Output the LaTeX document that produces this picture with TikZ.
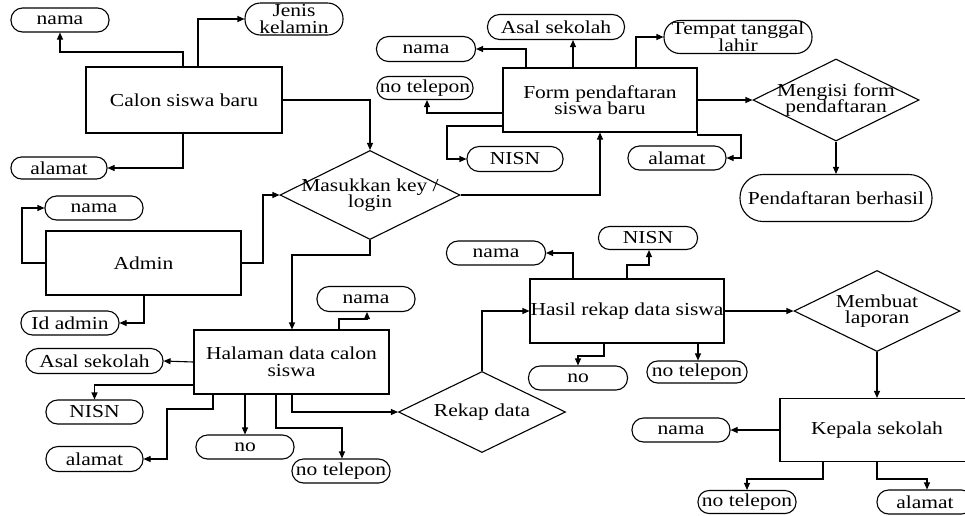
\documentclass[tikz,border=0pt]{standalone}
\usepackage{fontspec}
\setmainfont{Liberation Serif}
\usetikzlibrary{arrows.meta,shapes.geometric}
\lineskiplimit=-100pt
\newcommand\tx[1]{\scalebox{1}[0.85]{\vbox{\halign{\hfil##\hfil\cr#1\crcr}}}}
\begin{document}
\begin{tikzpicture}[x=1pt,y=-1pt,line width=1.1pt,
  every node/.style={font=\fontsize{21.5}{19.5}\selectfont},
  ent/.style={draw, rectangle, minimum width=195, minimum height=64, inner sep=0, align=center},
  attr/.style={draw, rectangle, rounded corners=11.5, minimum width=98, minimum height=24, inner sep=0, align=center},
  dec/.style={draw, diamond, inner sep=0},
  arr/.style={-{Triangle[length=7pt,width=6pt]}}]
\useasboundingbox (0,0) rectangle (965,515);
\clip (0,0) rectangle (965,515);
\fill[white] (0,0) rectangle (965,515);
% Calon siswa baru
\node[ent, minimum width=196, minimum height=66] (c1) at (184,100) {\tx{Calon siswa baru}};
\node[attr] (n1) at (60,20) {\tx{nama}};
\node[attr, minimum height=32, rounded corners=15.5] (jk) at (294,19) {\tx{Jenis\cr kelamin}};
\node[attr, minimum width=96, minimum height=22, rounded corners=10.5] (al1) at (59,168) {\tx{alamat}};
% Masukkan key
\node[dec, minimum width=180, minimum height=89, label={[font=\fontsize{21.5}{19.5}\selectfont]center:\tx{Masukkan key /\cr login}}] (mk) at (370,195) {};
% Admin
\node[ent] (ad) at (143.5,263) {\tx{Admin}};
\node[attr] (n2) at (94,208) {\tx{nama}};
\node[attr] (id) at (70,323) {\tx{Id admin}};
% Form pendaftaran
\node[ent, minimum width=194] (fp) at (600,100) {\tx{Form pendaftaran\cr siswa baru}};
\node[attr, minimum width=137, minimum height=25, rounded corners=12] (as1) at (556,27) {\tx{Asal sekolah}};
\node[attr, minimum width=99, minimum height=25, rounded corners=12] (n3) at (426,49) {\tx{nama}};
\node[attr, minimum width=96, minimum height=23, rounded corners=11] (nt1) at (425,88) {\tx{no telepon}};
\node[attr, minimum width=96, minimum height=25, rounded corners=12] (ns1) at (515,159) {\tx{NISN}};
\node[attr] (al2) at (677,158) {\tx{alamat}};
\node[attr, minimum width=148, minimum height=33, rounded corners=16] (tt) at (738,37) {\tx{Tempat tanggal\cr lahir}};
\node[dec, minimum width=166, minimum height=82, label={[font=\fontsize{21.5}{19.5}\selectfont]center:\tx{Mengisi form\cr pendaftaran}}] (mf) at (836,100) {};
\node[attr, minimum width=192, minimum height=47, rounded corners=23] (pb) at (836,198) {\tx{Pendaftaran berhasil}};
% Halaman data calon siswa
\node[ent] (hd) at (291.5,362) {\tx{Halaman data calon\cr siswa}};
\node[attr, minimum height=25, rounded corners=12] (n4) at (366,299) {\tx{nama}};
\node[attr, minimum width=137, minimum height=25, rounded corners=12] (as2) at (94.5,361) {\tx{Asal sekolah}};
\node[attr, minimum width=97] (ns2) at (94.5,412) {\tx{NISN}};
\node[attr, minimum width=97, minimum height=25, rounded corners=12] (al3) at (94.5,459) {\tx{alamat}};
\node[attr] (no1) at (245,447) {\tx{no}};
\node[attr] (nt2) at (341,471) {\tx{no telepon}};
\node[dec, minimum width=167, minimum height=81, label={[font=\fontsize{21.5}{19.5}\selectfont]center:\tx{Rekap data}}] (rk) at (482,412) {};
% Hasil rekap
\node[ent, minimum width=194] (hr) at (627,311) {\tx{Hasil rekap data siswa}};
\node[attr, minimum width=99] (n5) at (496,253) {\tx{nama}};
\node[attr, minimum width=99, minimum height=23, rounded corners=11] (ns3) at (648,238) {\tx{NISN}};
\node[attr, minimum width=99] (no2) at (578,378) {\tx{no}};
\node[attr, minimum width=100, minimum height=22, rounded corners=10.5] (nt3) at (697,372) {\tx{no telepon}};
\node[dec, minimum width=166, minimum height=81, label={[font=\fontsize{21.5}{19.5}\selectfont]center:\tx{Membuat\cr laporan}}] (ml) at (877,311) {};
% Kepala sekolah
\node[ent, minimum width=194, minimum height=63] (ks) at (877,430) {\tx{Kepala sekolah}};
\node[attr] (n6) at (681,430) {\tx{nama}};
\node[attr, minimum height=23, rounded corners=11] (nt4) at (747,502) {\tx{no telepon}};
\node[attr, minimum width=96] (al4) at (925,502) {\tx{alamat}};
% connectors
\draw[arr] (183,0 |- c1.north) -- (183,52) -| (n1.south);
\draw[arr] (198,0 |- c1.north) |- (jk.west);
\draw[arr] (183,0 |- c1.south) |- (al1.east);
\draw[arr] (c1.east) -| (mk.north);
\draw[arr] (ad.west) -- (22,0 |- ad.west) |- (n2.west);
\draw[arr] (144,0 |- ad.south) |- (id.east);
\draw[arr] (ad.east) -- (263,0 |- ad.east) |- (mk.west);
\draw[arr] (mk.east) -| (fp.south);
\draw[arr] (mk.south) |- (292,255) -- (292,0 |- hd.north);
\draw[arr] (526,0 |- fp.north) |- (n3.east);
\draw[arr] (573,0 |- fp.north) -- (573,0 |- as1.south);
\draw[arr] (636,0 |- fp.north) |- (tt.west);
\draw[arr] (fp.west |- 0,113) -| (427,0 |- nt1.south);
\draw[arr] (fp.west |- 0,126) -- (447,126) |- (ns1.west);
\draw[arr] (fp.south east) |- (741,135) |- (al2.east);
\draw[arr] (fp.east) -- (mf.west);
\draw[arr] (mf.south) -- (pb.north);
\draw[arr] (339,0 |- hd.north) |- (367,319) -- (367,0 |- n4.south);
\draw[arr] (hd.west) -- (as2.east);
\draw[arr] (hd.west |- 0,385) -| (ns2.north);
\draw[arr] (213,0 |- hd.south) |- (167,409) |- (al3.east);
\draw[arr] (245,0 |- hd.south) -- (245,0 |- no1.north);
\draw[arr] (276,0 |- hd.south) |- (342,428) -- (342,0 |- nt2.north);
\draw[arr] (292,0 |- hd.south) |- (rk.west);
\draw[arr] (rk.north) |- (hr.west);
\draw[arr] (573,0 |- hr.north) |- (n5.east);
\draw[arr] (627,0 |- hr.north) |- (649,265) -- (649,0 |- ns3.south);
\draw[arr] (604,0 |- hr.south) |- (578,356) -- (578,0 |- no2.north);
\draw[arr] (698,0 |- hr.south) -- (698,0 |- nt3.north);
\draw[arr] (hr.east) -- (ml.west);
\draw[arr] (ml.south) -- (ks.north);
\draw[arr] (ks.west) -- (n6.east);
\draw[arr] (823,0 |- ks.south) |- (747,479) -- (747,0 |- nt4.north);
\draw[arr] (ks.south) |- (927,479) -- (927,0 |- al4.north);
\end{tikzpicture}
\end{document}
